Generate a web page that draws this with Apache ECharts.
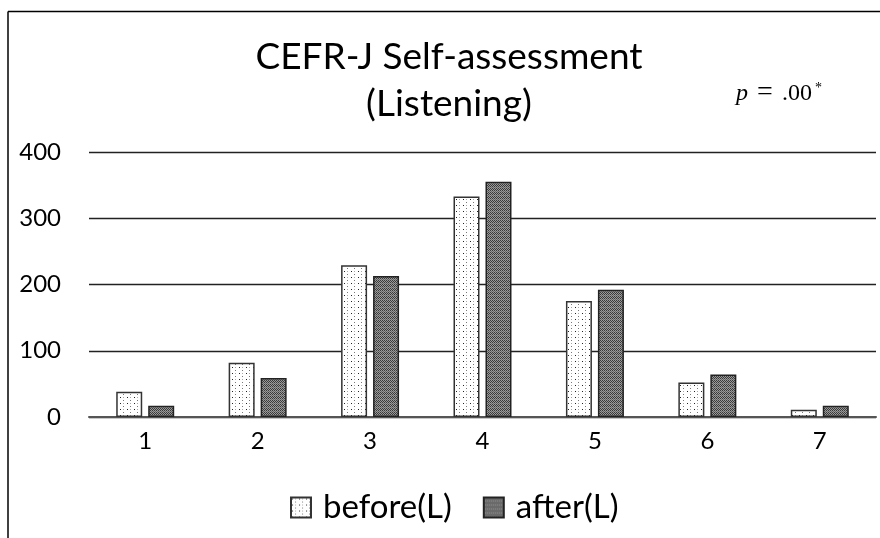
<!DOCTYPE html>
<html>
<head>
<meta charset="utf-8">
<script src="https://cdn.jsdelivr.net/npm/echarts@6/dist/echarts.min.js"></script>
<style>
html,body{margin:0;padding:0;background:#fff;}
#chart{width:880px;height:538px;}
</style>
</head>
<body>
<div id="chart"></div>
<script>
const categories = ['1','2','3','4','5','6','7'];
const beforeValues = [38, 82, 229, 333, 175, 52, 11];
const afterValues = [17, 59, 213, 355, 192, 64, 17];
const yTicks = [0, 100, 200, 300, 400];
const seriesNames = ['before(L)', 'after(L)'];

function makeDotPattern() {
  const c = document.createElement('canvas');
  c.width = 7; c.height = 6;
  const g = c.getContext('2d');
  g.fillStyle = '#ffffff'; g.fillRect(0, 0, 7, 6);
  g.fillStyle = '#222'; g.fillRect(1, 1, 1, 1);
  g.fillStyle = '#777'; g.fillRect(4, 4, 1, 1);
  g.fillStyle = '#aaa'; g.fillRect(4, 1, 1, 1);
  return c;
}
function makeCheckPattern() {
  const c = document.createElement('canvas');
  c.width = 4; c.height = 4;
  const g = c.getContext('2d');
  g.fillStyle = '#9a9a9a'; g.fillRect(0, 0, 4, 4);
  g.fillStyle = '#3a3a3a';
  g.fillRect(0, 0, 1, 1); g.fillRect(2, 0, 1, 1);
  g.fillRect(1, 1, 1, 1); g.fillRect(3, 1, 1, 1);
  g.fillRect(0, 2, 1, 1); g.fillRect(2, 2, 1, 1);
  g.fillStyle = '#666';
  g.fillRect(1, 3, 1, 1); g.fillRect(3, 3, 1, 1);
  return c;
}

const FONT = 'Lato';
const chart = echarts.init(document.getElementById('chart'), null, {renderer: 'canvas'});
chart.setOption({
  animation: false,
  backgroundColor: '#fff',
  title: {
    text: 'CEFR-J Self-assessment\n(Listening)',
    left: 444,
    top: 29,
    textAlign: 'center',
    textStyle: {fontFamily: FONT, fontSize: 37, fontWeight: 'normal', color: '#000', lineHeight: 47}
  },
  legend: {
    top: 486,
    left: 285,
    itemWidth: 20,
    itemHeight: 20,
    itemGap: 31,
    icon: 'rect',
    data: seriesNames,
    textStyle: {fontFamily: FONT, fontSize: 33, color: '#000', padding: [0, 0, 14, 7]}
  },
  grid: {left: 89, right: 4, top: 152, bottom: 121, containLabel: false},
  xAxis: {
    type: 'category',
    data: categories,
    axisLine: {show: true, lineStyle: {color: '#555', width: 2}},
    axisTick: {show: false},
    axisLabel: {fontFamily: FONT, fontSize: 24, color: '#000', margin: 12}
  },
  yAxis: {
    type: 'value',
    min: 0, max: 400, interval: 100,
    axisLine: {show: false},
    axisTick: {show: false},
    axisLabel: {fontFamily: FONT, fontSize: 24, color: '#000', margin: 28},
    splitLine: {lineStyle: {color: '#222', width: 1.3}}
  },
  series: [
    {
      name: seriesNames[0], type: 'bar', data: beforeValues,
      barWidth: 26, barGap: '23%',
      itemStyle: {color: {image: makeDotPattern(), repeat: 'repeat'}, borderColor: '#333', borderWidth: 1.5}
    },
    {
      name: seriesNames[1], type: 'bar', data: afterValues,
      barWidth: 26,
      itemStyle: {color: {image: makeCheckPattern(), repeat: 'repeat'}, borderColor: '#222', borderWidth: 1.5}
    }
  ],
  graphic: [
    {type: 'line', shape: {x1: 8, y1: 11.5, x2: 880, y2: 11.5}, style: {stroke: '#000', lineWidth: 1.5}},
    {type: 'line', shape: {x1: 8, y1: 11.5, x2: 8, y2: 538}, style: {stroke: '#000', lineWidth: 1.5}},
    {type: 'text', left: 736, top: 82, style: {text: 'p', font: 'italic 24px "Liberation Serif"', fill: '#000'}},
    {type: 'text', left: 757, top: 79, style: {text: '=', font: '28px "Liberation Serif"', fill: '#000'}},
    {type: 'text', left: 782, top: 82, style: {text: '.00', font: '24px "Liberation Serif"', fill: '#000'}},
    {type: 'text', left: 815, top: 81, style: {text: '*', font: '14px "Liberation Serif"', fill: '#000'}}
  ]
});
</script>
</body>
</html>
